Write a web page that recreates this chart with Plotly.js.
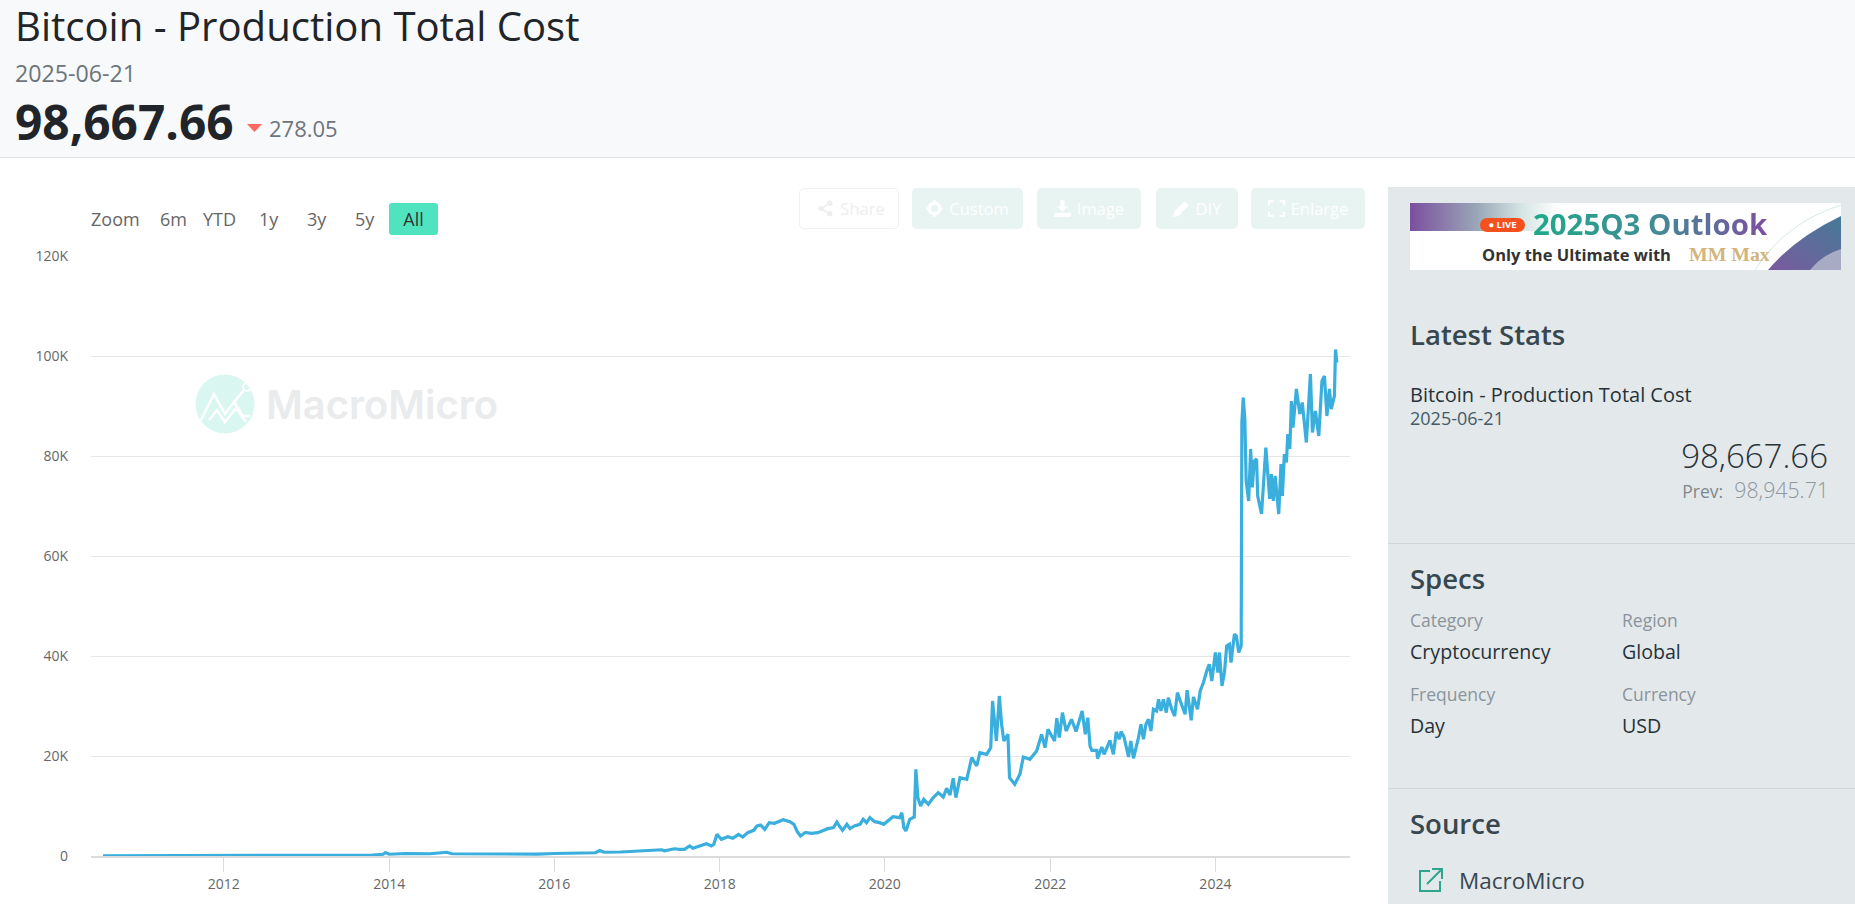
<!DOCTYPE html>
<html><head><meta charset="utf-8">
<script src="https://cdn.plot.ly/plotly-3.0.1.min.js"></script>
<style>
html,body{margin:0;padding:0;width:1855px;height:904px;overflow:hidden;background:#fff;font-family:"Open Sans","Noto Sans",sans-serif}
.t{position:absolute;white-space:nowrap;transform:translateY(-50%);line-height:1.1}
.r{transform:translate(-100%,-50%)}
#head{position:absolute;left:0;top:0;width:1855px;height:157px;background:#f8f9fa;border-bottom:1px solid #e2e4e6}
#side{position:absolute;left:1388px;top:187px;width:467px;height:717px;background:#e3e8ea}
.hr{position:absolute;left:1388px;width:467px;height:1px;background:#cfd6d9}
.btn{position:absolute;top:188px;height:41px;border-radius:5px;background:#e8f4f2;color:#fdfefe;font-size:16.5px;display:flex;align-items:center;justify-content:center;gap:6px}
.btn svg{width:17px;height:17px;fill:#fdfefe}
.z{position:absolute;color:#666;font-size:18px;top:219px;transform:translateY(-50%);line-height:1}
#plot{position:absolute;left:0;top:200px;width:1380px;height:704px}
h4{margin:0;font-weight:600;color:#37474f;font-size:27.5px}
</style></head><body>
<div id="head"></div>
<div class="t" style="left:15px;top:26px;font-size:40.1px;color:#212529">Bitcoin - Production Total Cost</div>
<div class="t" style="left:15px;top:74px;font-size:23.2px;color:#6c757d">2025-06-21</div>
<div class="t" style="left:15px;top:122px;font-size:47.8px;font-weight:700;color:#212529">98,667.66</div>
<svg style="position:absolute;left:247px;top:123px" width="15" height="10"><polygon points="0,1 15,1 7.5,9" fill="#f96a63"/></svg>
<div class="t" style="left:269px;top:128px;font-size:22px;color:#6c757d">278.05</div>

<svg style="position:absolute;left:190px;top:370px" width="320" height="70">
  <circle cx="35" cy="34" r="29.5" fill="#d9f7f0"/>
  <polyline points="11,50 24,24 35,44 44,32 53,46 60,46" fill="none" stroke="#fff" stroke-width="2.5"/>
  <polyline points="19,50 27,40 35,52 46,38 56,52" fill="none" stroke="#fff" stroke-width="2.5"/>
  <polyline points="44,32 54,20" fill="none" stroke="#fff" stroke-width="2.5"/>
  <circle cx="57" cy="17" r="4" fill="none" stroke="#fff" stroke-width="2"/>
  <text x="76" y="49" font-family="Inter" font-weight="600" font-size="40" fill="#e9ebec" textLength="232" lengthAdjust="spacingAndGlyphs">MacroMicro</text>
</svg>

<div class="z" style="left:91px">Zoom</div>
<div class="z" style="left:160px">6m</div>
<div class="z" style="left:203px">YTD</div>
<div class="z" style="left:259px">1y</div>
<div class="z" style="left:307px">3y</div>
<div class="z" style="left:355px">5y</div>
<div style="position:absolute;left:389px;top:203px;width:49px;height:32px;background:#4fe3bf;border-radius:3px;color:#333;font-size:18px;display:flex;align-items:center;justify-content:center">All</div>

<div class="btn" style="left:799px;background:#fff;border:1px solid #f1f1f1;height:39px;color:#eee;padding-left:4px;box-sizing:content-box;width:94px"><svg viewBox="0 0 16 16" style="fill:#eee"><circle cx="12" cy="3" r="2.6"/><circle cx="12" cy="13" r="2.6"/><circle cx="4" cy="8" r="2.6"/><path d="M4 8L12 3M4 8L12 13" stroke="#eee" stroke-width="1.5"/></svg>Share</div>
<div class="btn" style="left:912px;width:111px"><svg viewBox="0 0 16 16"><circle cx="8" cy="8" r="5" fill="none" stroke="#fdfefe" stroke-width="3.5"/><path d="M7 0h2v3H7zM7 13h2v3H7zM0 7h3v2H0zM13 7h3v2h-3z"/></svg>Custom</div>
<div class="btn" style="left:1037px;width:104px"><svg viewBox="0 0 16 16"><path d="M6 0h4v6h3l-5 5-5-5h3zM0 12h16v4H0z"/></svg>Image</div>
<div class="btn" style="left:1156px;width:82px"><svg viewBox="0 0 16 16"><path d="M0 16l1-5L11 1l4 4L5 15z"/></svg>DIY</div>
<div class="btn" style="left:1251px;width:114px"><svg viewBox="0 0 16 16"><path d="M0 0h5v2H2v3H0zM11 0h5v5h-2V2h-3zM0 11h2v3h3v2H0zM14 11h2v5h-5v-2h3z"/></svg>Enlarge</div>

<div id="plot"></div>

<div id="side"></div>
<div style="position:absolute;left:1410px;top:203px;width:431px;height:67px;background:#fff;overflow:hidden">
  <div style="position:absolute;left:0;top:0;width:150px;height:28px;background:linear-gradient(90deg,#7b4f9e,#9aa7b8 45%,#d6e6e4 75%,#fff)"></div>
  <svg style="position:absolute;left:0;top:0" width="431" height="67">
    <defs><linearGradient id="arc" x1="0" y1="1" x2="1" y2="0"><stop offset="0" stop-color="#7a5a9e"/><stop offset="1" stop-color="#467a98"/></linearGradient></defs>
    <path d="M358 67Q385 35 431 13V67Z" fill="url(#arc)"/>
    <path d="M400 67Q412 52 431 46V67Z" fill="#a7abc4"/>
    <path d="M345 67Q375 20 431 2" fill="none" stroke="#d7e9e6" stroke-width="1"/>
  </svg>
  <div class="t" style="left:70px;top:22px;width:45px;height:14px;line-height:14px;background:#f4511e;border-radius:7px;color:#fff;font-size:9.5px;font-weight:700;text-align:center;transform:translateY(-50%)">● LIVE</div>
  <div class="t" style="left:123px;top:20.5px;font-size:29.4px;font-weight:700;font-family:'Open Sans';background:linear-gradient(90deg,#1fa98a,#3f8d95 50%,#7d4fa0);-webkit-background-clip:text;background-clip:text;color:transparent">2025Q3 Outlook</div>
  <div class="t" style="left:72px;top:52px;font-size:16.5px;font-weight:700;color:#333">Only the Ultimate with</div>
  <div class="t" style="left:279px;top:52px;font-size:19.8px;font-weight:700;font-family:'Liberation Serif';color:#d2b57d">MM Max</div>
</div>
<h4 class="t" style="left:1410px;top:335px">Latest Stats</h4>
<div class="t" style="left:1410px;top:395px;font-size:20px;color:#263238">Bitcoin - Production Total Cost</div>
<div class="t" style="left:1410px;top:419px;font-size:18px;color:#455a64">2025-06-21</div>
<div class="t r" style="left:1828px;top:456px;font-size:33px;font-weight:300;color:#263238">98,667.66</div>
<div class="t r" style="left:1829px;top:490px;font-size:21.3px;font-weight:300;color:#8d979d"><span style="font-size:17.5px;font-weight:400;color:#7d888f">Prev:</span>&nbsp; 98,945.71</div>
<div class="hr" style="top:543px"></div>
<h4 class="t" style="left:1410px;top:579px">Specs</h4>
<div class="t" style="left:1410px;top:621px;font-size:17.5px;color:#8a949b">Category</div>
<div class="t" style="left:1622px;top:621px;font-size:17.5px;color:#8a949b">Region</div>
<div class="t" style="left:1410px;top:652px;font-size:19.6px;color:#263238">Cryptocurrency</div>
<div class="t" style="left:1622px;top:652px;font-size:19.6px;color:#263238">Global</div>
<div class="t" style="left:1410px;top:695px;font-size:17.5px;color:#8a949b">Frequency</div>
<div class="t" style="left:1622px;top:695px;font-size:17.5px;color:#8a949b">Currency</div>
<div class="t" style="left:1410px;top:726px;font-size:19.6px;color:#263238">Day</div>
<div class="t" style="left:1622px;top:726px;font-size:19.6px;color:#263238">USD</div>
<div class="hr" style="top:788px"></div>
<h4 class="t" style="left:1410px;top:824px">Source</h4>
<svg style="position:absolute;left:1418px;top:867px" width="26" height="26" fill="none" stroke="#2fa58e" stroke-width="2"><path d="M12 4H2V24H22V14"/><path d="M9 17L23 3M14 2H24V12"/></svg>
<div class="t" style="left:1459px;top:881px;font-size:22.5px;color:#37474f">MacroMicro</div>

<script>
const dates = [
"2010-07-16","2011-01-01","2011-07-01","2012-01-01","2012-07-01","2013-01-01","2013-04-20","2013-07-01","2013-10-20","2013-12-05","2013-12-16",
"2014-01-01","2014-03-15","2014-07-01","2014-08-08","2014-09-12","2014-10-05","2015-01-01","2015-04-20","2015-08-08","2015-10-20",
"2016-01-01","2016-04-20","2016-07-01","2016-07-20","2016-08-08","2016-10-20","2017-01-01","2017-03-15","2017-04-20","2017-05-01","2017-06-15",
"2017-07-07","2017-07-29","2017-08-21","2017-09-05","2017-10-04","2017-11-03","2017-11-25","2017-12-06","2017-12-20",
"2018-01-08","2018-02-06","2018-02-28","2018-03-25","2018-04-13","2018-05-05","2018-05-31","2018-06-15","2018-07-01","2018-07-19","2018-08-08","2018-08-31","2018-10-09","2018-11-07","2018-11-25","2018-12-10","2018-12-24",
"2019-01-15","2019-02-10","2019-03-11","2019-04-02","2019-04-24","2019-05-19","2019-06-03","2019-06-14","2019-06-28","2019-07-17","2019-07-31","2019-08-19","2019-09-13","2019-09-27","2019-10-12","2019-10-27","2019-11-17","2019-12-09","2019-12-27",
"2020-02-06","2020-03-07","2020-03-16","2020-03-25","2020-04-03","2020-04-20","2020-05-10","2020-05-17","2020-05-26","2020-06-07","2020-06-21","2020-07-11","2020-08-02","2020-08-24","2020-09-15","2020-09-30","2020-10-15","2020-10-29","2020-11-10","2020-11-28","2020-12-28",
"2021-01-19","2021-02-10","2021-02-24","2021-03-26","2021-04-13","2021-04-21","2021-05-01","2021-05-08","2021-05-21","2021-05-31","2021-06-10","2021-06-28","2021-07-05","2021-07-28","2021-08-20","2021-09-04","2021-10-03","2021-11-02","2021-11-24","2021-12-09","2021-12-22",
"2022-01-20","2022-01-30","2022-02-10","2022-02-24","2022-03-12","2022-04-05","2022-04-25","2022-05-22","2022-06-05","2022-06-16","2022-06-26","2022-07-04","2022-07-26","2022-07-29","2022-08-17","2022-08-27","2022-09-22","2022-10-07","2022-10-20","2022-11-03","2022-11-10","2022-11-23","2022-12-13","2022-12-23",
"2023-01-04","2023-01-26","2023-02-06","2023-02-17","2023-02-28","2023-03-11","2023-03-22","2023-04-02","2023-04-16","2023-04-25","2023-05-05","2023-05-16","2023-05-29","2023-06-07","2023-06-22","2023-07-05","2023-07-17","2023-08-04","2023-08-20","2023-08-29","2023-09-16","2023-09-26","2023-10-14","2023-10-26","2023-11-09","2023-11-26","2023-12-05","2023-12-16",
"2024-01-01","2024-01-12","2024-01-19","2024-01-30","2024-02-10","2024-02-20","2024-03-03","2024-03-10","2024-03-25","2024-04-03","2024-04-13","2024-04-24","2024-04-27","2024-05-03","2024-05-10","2024-05-16","2024-05-27","2024-06-05","2024-06-12","2024-06-21","2024-07-01","2024-07-06","2024-07-23","2024-08-11","2024-08-28","2024-09-04","2024-09-13","2024-09-21","2024-09-30","2024-10-07","2024-10-17","2024-10-23","2024-11-01","2024-11-10","2024-11-16","2024-11-25","2024-12-02","2024-12-09","2024-12-24",
"2025-01-08","2025-01-19","2025-02-06","2025-02-24","2025-03-05","2025-03-18","2025-04-02","2025-04-16","2025-04-27","2025-05-08","2025-05-19","2025-05-27","2025-06-10","2025-06-15","2025-06-17","2025-06-20","2025-06-21"];
const totalCost = [
50,60,100,90,100,120,180,180,200,350,700,
350,500,450,600,750,450,420,400,380,380,
500,560,650,1100,750,800,1000,1300,1250,1050,1450,
1334,1334,2000,1534,2000,2470,2000,2330,4335,
3335,3870,3535,4335,3800,4670,5135,6000,6200,5335,6670,6540,7270,6870,6340,4870,4000,
4735,4535,4670,5000,5470,5670,6800,6000,5135,6340,5470,6000,6340,7340,6670,7670,6870,6670,6340,
7870,7670,8670,5670,5000,7340,7800,17340,11670,10000,11340,10340,11670,12670,11800,13540,12200,15540,11670,15670,15340,
19670,18000,20670,20340,21670,31000,25670,23000,32000,26340,23000,24340,15670,14340,16340,19800,19340,21000,24340,21670,25340,
23000,27550,23670,28670,25000,27340,24900,29000,24340,27670,22000,21140,21140,19480,21800,20340,23140,20340,24800,23340,24900,23800,19800,23000,
19540,23670,26340,23340,26340,27340,25000,29340,29000,31340,29000,31340,28670,31670,29340,28000,32670,30340,28340,33150,27150,31800,29340,33000,34700,37350,38350,35000,
40700,36700,40700,34000,36700,42000,42350,38700,44350,44000,40700,42000,86700,91700,87400,75000,71000,81400,73700,79000,79400,72000,68400,81700,71400,76400,71000,76000,71000,68400,78400,72000,80400,78700,84400,81400,91000,85700,93400,
88400,90700,82700,96400,84700,89000,84000,95000,96000,88000,93400,89400,92000,101300,100500,98945.71,98667.66];
const yTickVals = [0,20000,40000,60000,80000,100000,120000];
const yTickText = ["0","20K","40K","60K","80K","100K","120K"];
const xTickVals = ["2012-01-01","2014-01-01","2016-01-01","2018-01-01","2020-01-01","2022-01-01","2024-01-01"];
const xTickText = ["2012","2014","2016","2018","2020","2022","2024"];

Plotly.newPlot("plot",[{
  type:"scatter",mode:"lines",x:dates,y:totalCost,
  line:{color:"#3aafde",width:3.2,shape:"linear"},hoverinfo:"x+y",name:"Bitcoin - Production Total Cost"
}],{
  width:1380,height:704,autosize:false,showlegend:false,
  margin:{l:91,r:30,t:55.6,b:48.4,pad:0},
  paper_bgcolor:"rgba(0,0,0,0)",plot_bgcolor:"rgba(0,0,0,0)",
  font:{family:"Open Sans",size:14,color:"#666"},
  xaxis:{type:"date",range:["2010-05-24","2025-08-18"],tickmode:"array",tickvals:xTickVals,ticktext:xTickText,
    showgrid:false,zeroline:false,showline:true,linecolor:"#dcdcdc",linewidth:2,
    ticks:"outside",ticklen:14,tickcolor:"#dcdcdc",tickwidth:1,tickfont:{size:14,color:"#666"}},
  yaxis:{range:[0,120000],tickmode:"array",tickvals:yTickVals,ticktext:yTickText,
    showgrid:true,gridcolor:"#e6e6e6",gridwidth:1,zeroline:false,showline:false,ticks:"",
    ticklabelstandoff:22,tickfont:{size:14,color:"#666"}}
},{displayModeBar:false});
</script>
</body></html>
